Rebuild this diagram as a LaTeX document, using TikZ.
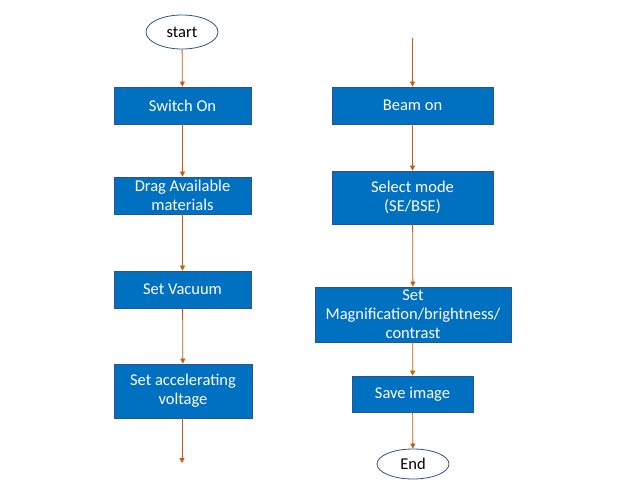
\documentclass[tikz,border=0pt]{standalone}
\usepackage{fontspec}
\setmainfont{Carlito}
\usetikzlibrary{arrows.meta,shapes.geometric}
\definecolor{boxblue}{RGB}{0,112,192}
\definecolor{boxedge}{RGB}{47,82,143}
\definecolor{arr}{RGB}{197,90,17}
\tikzset{
  stepbox/.style={draw=boxedge, line width=0.8pt, fill=boxblue, text=white, inner sep=0pt, align=center,
    font=\fontsize{16.5}{19}\selectfont},
  term/.style={ellipse, draw=boxedge, line width=0.8pt, fill=white, inner sep=0pt,
    minimum width=72pt, minimum height=34pt, font=\fontsize{16.5}{19}\selectfont},
  flow/.style={draw=arr, line width=0.8pt, -{Triangle[length=5pt,width=5pt]}}
}
\begin{document}
\begin{tikzpicture}[x=1pt,y=-1pt]
\useasboundingbox (0,0) rectangle (632,492);
% left column
\node[term] (start) at (182,32) {start};
\node[stepbox, minimum width=137pt, minimum height=37pt] (sw) at (182.5,105.5) {Switch On};
\node[stepbox, minimum width=137pt, minimum height=37pt] (drag) at (182.5,195.5) {Drag Available\\materials};
\node[stepbox, minimum width=137pt, minimum height=37pt] (vac) at (182.5,289.5) {Set Vacuum};
\node[stepbox, minimum width=138pt, minimum height=54pt] (acc) at (183,391) {Set accelerating\\voltage};
\coordinate (lend) at (182,463);
% right column
\coordinate (rtop) at (412.5,38);
\node[stepbox, minimum width=161pt, minimum height=37pt] (beam) at (412.5,105.5) {Beam on};
\node[stepbox, minimum width=161pt, minimum height=53pt] (mode) at (412.5,197.5) {Select mode\\(SE/BSE)};
\node[stepbox, minimum width=196pt, minimum height=55pt] (mag) at (413,314.5) {Set\\Magnification/brightness/\\contrast};
\node[stepbox, minimum width=121pt, minimum height=36pt] (save) at (412.5,394) {Save image};
\node[term, minimum height=30pt] (end) at (413,464) {End};
% connectors
\draw[flow] (start) -- (sw);
\draw[flow] (sw) -- (drag);
\draw[flow] (drag) -- (vac);
\draw[flow] (vac) -- (acc);
\draw[flow] (acc.south -| lend) -- (lend);
\draw[flow] (rtop) -- (beam);
\draw[flow] (beam) -- (mode);
\draw[flow] (mode) -- (mag);
\draw[flow] (mag) -- (save);
\draw[flow] (save) -- (end);
\end{tikzpicture}
\end{document}
